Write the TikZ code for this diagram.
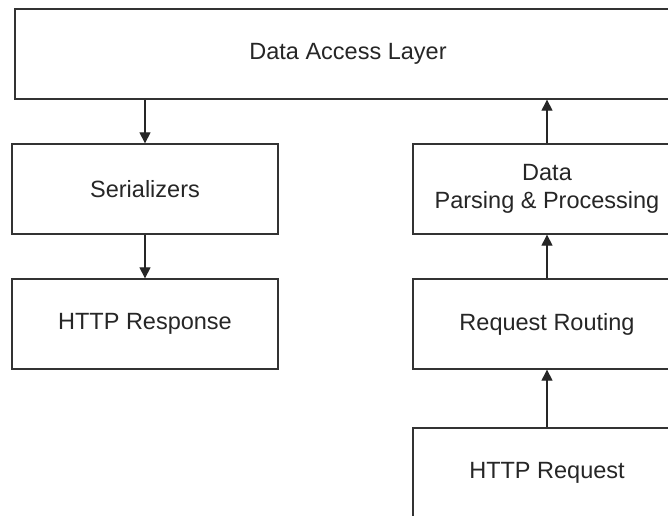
\documentclass[tikz,border=0pt]{standalone}
\usepackage{fontspec}
\setmainfont{Liberation Sans}
\usetikzlibrary{arrows.meta}
\begin{document}
\begin{tikzpicture}[x=1pt,y=-1pt,
  box/.style={draw=black!80,line width=1.3pt,fill=white,inner sep=0pt,align=center,
    font=\fontsize{23.5}{28.5}\selectfont,text=black!85},
  conn/.style={draw=black!85,line width=1.1pt,-{Triangle[length=11pt,width=11pt]}}]
\useasboundingbox (0,0) rectangle (668,515);
\clip (0,0) rectangle (668,515);
\fill[white] (0,0) rectangle (668,515);
\node[box,minimum width=666pt,minimum height=90pt] (dal) at (348,54) {Data Access Layer};
\node[box,minimum width=266pt,minimum height=90pt] (ser) at (145,189) {Serializers};
\node[box,minimum width=266pt,minimum height=90pt] (resp) at (145,324) {HTTP Response};
\node[box,minimum width=268pt,minimum height=90pt] (dpp) at (547,189) {Data\\Parsing \& Processing};
\node[box,minimum width=268pt,minimum height=90pt] (rr) at (547,324) {Request Routing};
\node[box,minimum width=268pt,minimum height=90pt] (req) at (547,473) {HTTP Request};
\draw[conn] (dal.south -| ser.north) -- (ser.north);
\draw[conn] (ser.south) -- (resp.north);
\draw[conn] (dpp.north) -- (dal.south -| dpp.north);
\draw[conn] (rr.north) -- (dpp.south);
\draw[conn] (req.north) -- (rr.south);
\end{tikzpicture}
\end{document}
